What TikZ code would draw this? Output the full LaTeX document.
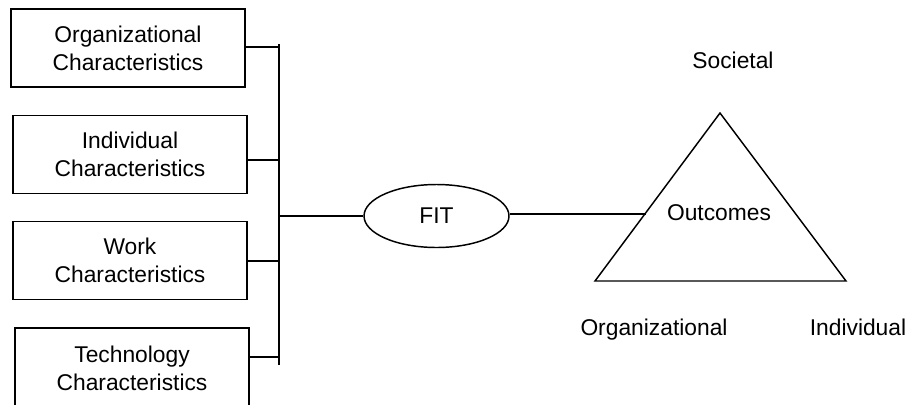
\documentclass[tikz,border=0pt]{standalone}
\usepackage{fontspec}
\setmainfont{Liberation Sans}
\usetikzlibrary{shapes.geometric}
\begin{document}
\begin{tikzpicture}[x=0.75pt, y=-0.75pt, font=\fontsize{17.1}{21}\selectfont,
    charbox/.style={draw, line width=1.4pt, align=center, inner sep=0pt,
                    minimum width=175.5pt, minimum height=58.5pt},
    link/.style={line width=1.4pt},
    tri/.style={line width=1.1pt, line join=miter}]
    \useasboundingbox (0,0) rectangle (912,404);

    % characteristic boxes
    \node[charbox] (org)  at (128,48)    {Organizational\\Characteristics};
    \node[charbox] (ind)  at (130,154.5) {Individual\\Characteristics};
    \node[charbox] (work) at (130,260.5) {Work\\Characteristics};
    \node[charbox, minimum height=60pt] (tech) at (132,368) {Technology\\Characteristics};

    % bus
    \coordinate (bustop) at (279,44);
    \coordinate (busbot) at (279,365);
    \coordinate (busmid) at (279,216);
    \draw[link] (bustop) -- (busbot);
    \foreach \b/\y in {org/47, ind/160, work/261, tech/357} {
      \draw[link] (\b.east |- 0,\y) -- (279,\y);
    }

    % fit
    \node[draw, ellipse, line width=1.1pt, inner sep=0pt,
          minimum width=108.75pt, minimum height=47.25pt] (fit) at (436.5,216) {FIT};
    \draw[link] (busmid) -- (fit.west);

    % outcomes triangle
    \coordinate (apex) at (720,113);
    \coordinate (left) at (595,281);
    \coordinate (right) at (846,281);
    \draw[tri] (apex) -- (left) -- (right) -- cycle;
    \coordinate (tin) at (646,214);
    \draw[link] (fit.east |- tin) -- (tin);

    \node (outc) at (719,213) {Outcomes};
    \node (soc)  at (733,60)  {Societal};
    \node (orgo) at (654,330) {Organizational};
    \node (indo) at (858,327) {Individual};
\end{tikzpicture}
\end{document}
